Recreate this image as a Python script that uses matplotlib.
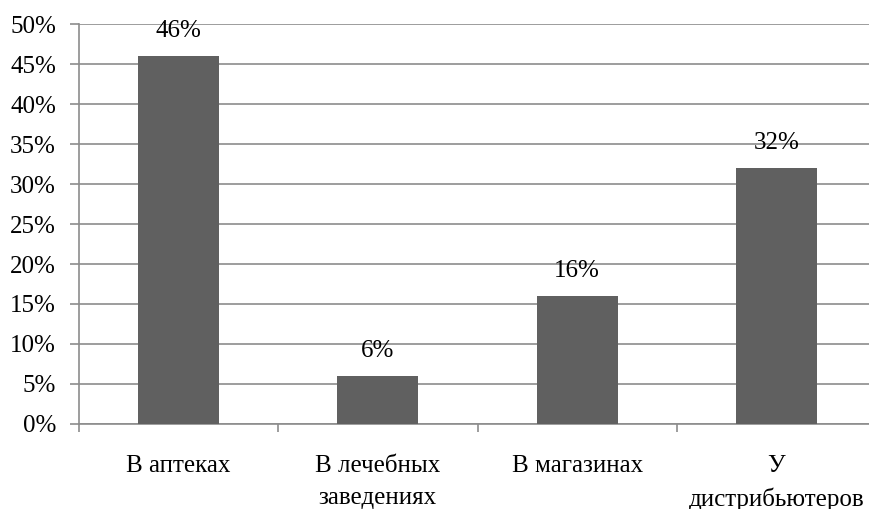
import matplotlib
matplotlib.use('Agg')
import matplotlib.pyplot as plt
import numpy as np

categories = ['В аптеках', 'В лечебных\nзаведениях', 'В магазинах', 'У\nдистрибьютеров']
values = [46, 6, 16, 32]
yticks = [0, 5, 10, 15, 20, 25, 30, 35, 40, 45, 50]

plt.rcParams['font.family'] = ['Liberation Serif', 'DejaVu Serif']
plt.rcParams['font.size'] = 18

fig = plt.figure(figsize=(8.69, 5.09), dpi=100)
ax = fig.add_axes([79 / 869, 1 - 424 / 509, 797 / 869, 400 / 509])

x = np.arange(len(categories))
bars = ax.bar(x, values, width=0.406, color='#606060', zorder=3)

for xi, v in zip(x, values):
    ax.annotate(f'{v}%', (xi, v), xytext=(0, 14), textcoords='offset points',
                ha='center', va='baseline', fontsize=18, zorder=4)

ax.set_xlim(-0.5, len(categories) - 0.5)
ax.set_ylim(0, 50)
ax.set_yticks(yticks)
ax.set_yticklabels([f'{t}%' for t in yticks])
ax.yaxis.grid(True, color='#8c8c8c', linewidth=1.2, zorder=0)

# category ticks sit on the boundaries, labels in the middle
ax.set_xticks(np.arange(len(categories) + 1) - 0.5)
ax.set_xticklabels([])
ax.set_xticks(x, minor=True)
ax.set_xticklabels(categories, minor=True, linespacing=1.6)
ax.tick_params(axis='x', which='minor', length=0, pad=22)
ax.tick_params(axis='x', which='major', length=6, color='#8c8c8c', width=1.2)
ax.tick_params(axis='y', length=6.5, color='#8c8c8c', width=1.2, pad=10)

for s in ['top', 'right']:
    ax.spines[s].set_visible(False)
for s in ['left', 'bottom']:
    ax.spines[s].set_color('#8c8c8c')
    ax.spines[s].set_linewidth(1.2)

fig.savefig('out.png', dpi=100)
